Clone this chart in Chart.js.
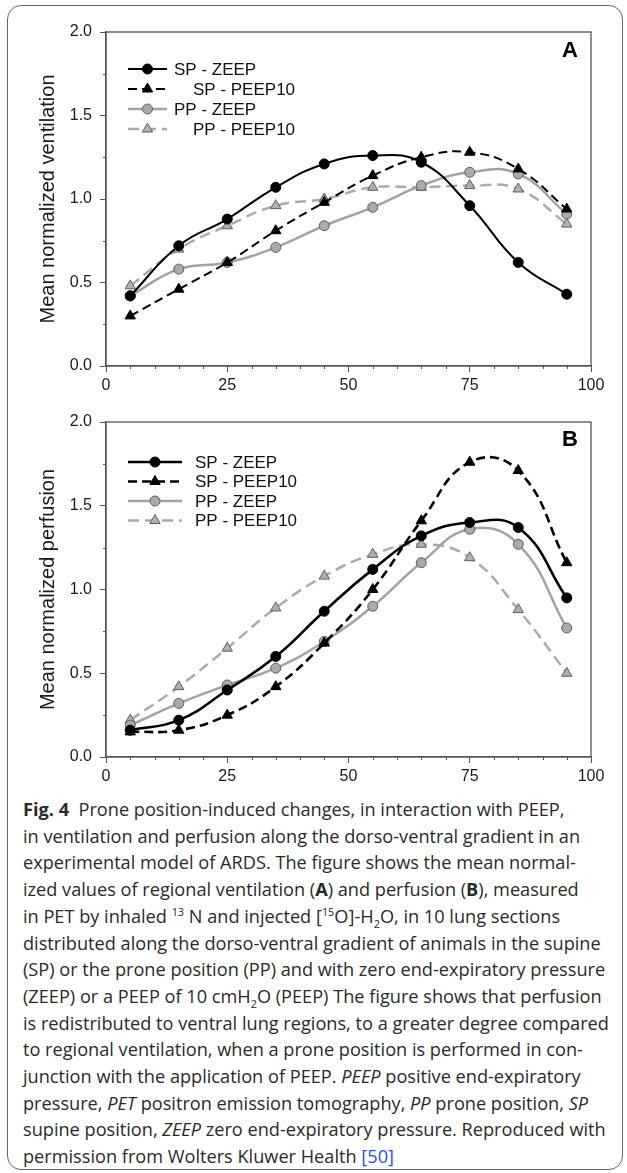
<!DOCTYPE html>
<html lang="en">
<head>
    <meta charset="UTF-8">
    <title>Fig. 4 - Ventilation and perfusion</title>
    <script src="https://cdn.jsdelivr.net/npm/chart.js"></script>
    <style>
        body {
            margin: 0;
            background: #fff;
            width: 627px;
            height: 1173px;
            position: relative;
            overflow: hidden;
            font-family: Arial, "Liberation Sans", sans-serif;
        }
        .frame {
            position: absolute;
            left: 7px;
            top: 5px;
            width: 616px;
            height: 1165px;
            border: 1px solid #666;
            border-radius: 14px;
            box-sizing: border-box;
        }
        canvas { position: absolute; left: 0; }
        #ventChart { top: 0; }
        #perfChart { top: 400px; }
        .cap {
            position: absolute;
            left: 23px;
            top: 796px;
            font-family: "Open Sans", "Noto Sans", sans-serif;
            font-size: 18px;
            line-height: 26.7px;
            color: #2a2a2a;
            transform-origin: left top;
        }
        .cap div { white-space: nowrap; width: max-content; }
        .cap sup, .cap sub { font-size: 0.6em; line-height: 0; }
        .cap .ref { color: #2d4fd0; }
    </style>
</head>
<body>
    <div class="frame"></div>
    <canvas id="ventChart" width="627" height="400"></canvas>
    <canvas id="perfChart" width="627" height="390"></canvas>

    <div class="cap" id="caption">
        <div><b>Fig. 4</b>&nbsp; Prone position-induced changes, in interaction with PEEP,</div>
        <div>in ventilation and perfusion along the dorso-ventral gradient in an</div>
        <div>experimental model of ARDS. The figure shows the mean normal-</div>
        <div>ized values of regional ventilation (<b>A</b>) and perfusion (<b>B</b>), measured</div>
        <div>in PET by inhaled <sup>13</sup> N and injected [<sup>15</sup>O]-H<sub>2</sub>O, in 10 lung sections</div>
        <div>distributed along the dorso-ventral gradient of animals in the supine</div>
        <div id="fitLine">(SP) or the prone position (PP) and with zero end-expiratory pressure</div>
        <div>(ZEEP) or a PEEP of 10 cmH<sub>2</sub>O (PEEP) The figure shows that perfusion</div>
        <div>is redistributed to ventral lung regions, to a greater degree compared</div>
        <div>to regional ventilation, when a prone position is performed in con-</div>
        <div>junction with the application of PEEP. <i>PEEP</i> positive end-expiratory</div>
        <div>pressure, <i>PET</i> positron emission tomography, <i>PP</i> prone position, <i>SP</i></div>
        <div>supine position, <i>ZEEP</i> zero end-expiratory pressure. Reproduced with</div>
        <div>permission from Wolters Kluwer Health <span class="ref">[50]</span></div>
    </div>

    <script>
        // lung section positions (% of dorso-ventral gradient)
        const sections = [5, 15, 25, 35, 45, 55, 65, 75, 85, 95];
        const seriesNames = ['SP - ZEEP', 'SP - PEEP10', 'PP - ZEEP', 'PP - PEEP10'];

        // panel A - mean normalized ventilation
        const ventSpZeep   = [0.42, 0.72, 0.88, 1.07, 1.21, 1.26, 1.22, 0.96, 0.62, 0.43];
        const ventSpPeep10 = [0.30, 0.46, 0.62, 0.81, 0.98, 1.14, 1.25, 1.28, 1.18, 0.94];
        const ventPpZeep   = [0.42, 0.58, 0.62, 0.71, 0.84, 0.95, 1.08, 1.16, 1.15, 0.91];
        const ventPpPeep10 = [0.48, 0.70, 0.84, 0.96, 1.00, 1.07, 1.07, 1.08, 1.06, 0.85];

        // panel B - mean normalized perfusion
        const perfSpZeep   = [0.16, 0.22, 0.40, 0.60, 0.87, 1.12, 1.32, 1.40, 1.37, 0.95];
        const perfSpPeep10 = [0.15, 0.16, 0.25, 0.42, 0.68, 1.00, 1.41, 1.76, 1.71, 1.16];
        const perfPpZeep   = [0.19, 0.32, 0.43, 0.53, 0.69, 0.90, 1.16, 1.36, 1.27, 0.77];
        const perfPpPeep10 = [0.22, 0.42, 0.65, 0.89, 1.08, 1.21, 1.27, 1.19, 0.88, 0.50];

        const xTicks = [0, 25, 50, 75, 100];
        const yTicks = [0, 0.5, 1.0, 1.5, 2.0];

        function toPoints(values) {
            return values.map((v, i) => ({ x: sections[i], y: v }));
        }

        function buildDatasets(lists, blackWidth) {
            return [
                { label: seriesNames[0], data: toPoints(lists[0]), borderColor: '#000', borderWidth: blackWidth,
                  pointStyle: 'circle', pointRadius: 5, pointBackgroundColor: '#000', pointBorderColor: '#000', pointBorderWidth: 1 },
                { label: seriesNames[1], data: toPoints(lists[1]), borderColor: '#000', borderWidth: blackWidth, borderDash: [9, 5],
                  pointStyle: 'triangle', pointRadius: 6, pointBackgroundColor: '#000', pointBorderColor: '#000', pointBorderWidth: 1 },
                { label: seriesNames[2], data: toPoints(lists[2]), borderColor: '#a3a3a3', borderWidth: 2.5,
                  pointStyle: 'circle', pointRadius: 5, pointBackgroundColor: '#aaa', pointBorderColor: '#5e5e5e', pointBorderWidth: 1 },
                { label: seriesNames[3], data: toPoints(lists[3]), borderColor: '#ababab', borderWidth: 2.5, borderDash: [11, 6],
                  pointStyle: 'triangle', pointRadius: 6, pointBackgroundColor: '#b0b0b0', pointBorderColor: '#5e5e5e', pointBorderWidth: 1 }
            ];
        }

        // frame, minor ticks, panel letter and the custom legend
        const figDecor = {
            id: 'figDecor',
            beforeDatasetsDraw(chart, args, opts) {
                const ctx = chart.ctx;
                const area = chart.chartArea;
                const xs = chart.scales.x, ys = chart.scales.y;
                ctx.save();
                ctx.strokeStyle = '#555';
                ctx.lineWidth = 1.3;
                ctx.strokeRect(area.left, area.top, area.right - area.left, area.bottom - area.top);
                ctx.lineWidth = 1;
                ctx.beginPath();
                for (let v = 5; v < 100; v += 5) {
                    if (v % 25 === 0) continue;
                    const px = Math.round(xs.getPixelForValue(v)) + 0.5;
                    ctx.moveTo(px, area.bottom);
                    ctx.lineTo(px, area.bottom + 3);
                }
                for (let v = 0.25; v < 2; v += 0.5) {
                    const py = Math.round(ys.getPixelForValue(v)) + 0.5;
                    ctx.moveTo(area.left, py);
                    ctx.lineTo(area.left - 3, py);
                }
                ctx.stroke();

                ctx.fillStyle = '#000';
                ctx.font = 'bold 22px Arial';
                ctx.textAlign = 'center';
                ctx.textBaseline = 'middle';
                ctx.fillText(opts.letter, area.right - 21, area.top + opts.letterDy);
                ctx.restore();
            },
            afterDraw(chart, args, opts) {
                const ctx = chart.ctx;
                const lg = opts.legend;
                ctx.save();
                chart.data.datasets.forEach((ds, i) => {
                    const y = lg.y0 + i * lg.dy;
                    ctx.strokeStyle = ds.borderColor;
                    ctx.lineWidth = ds.borderWidth;
                    ctx.setLineDash(ds.borderDash || []);
                    ctx.beginPath();
                    ctx.moveTo(lg.x0, y);
                    ctx.lineTo(lg.x1, y);
                    ctx.stroke();
                    ctx.setLineDash([]);
                    ctx.fillStyle = ds.pointBackgroundColor;
                    ctx.strokeStyle = ds.pointBorderColor;
                    ctx.lineWidth = ds.pointBorderWidth;
                    Chart.helpers.drawPoint(ctx, { pointStyle: ds.pointStyle, radius: ds.pointRadius, rotation: 0, borderWidth: ds.pointBorderWidth }, (lg.x0 + lg.x1) / 2, y);
                    ctx.fillStyle = '#111';
                    ctx.font = '17px Arial';
                    ctx.textAlign = 'left';
                    ctx.textBaseline = 'middle';
                    ctx.fillText(ds.label, lg.tx[i], y + 1);
                });
                ctx.restore();
            }
        };

        function createChart(canvasId, lists, yTitle, letter, padTop, xHeight, blackWidth, legend, letterDy) {
            const ctx = document.getElementById(canvasId).getContext('2d');
            return new Chart(ctx, {
                type: 'line',
                data: { datasets: buildDatasets(lists, blackWidth) },
                plugins: [figDecor],
                options: {
                    responsive: false,
                    animation: false,
                    layout: { padding: { top: padTop, right: 36, left: 0, bottom: 0 } },
                    elements: { line: { tension: 0.45, fill: false } },
                    plugins: {
                        legend: { display: false },
                        tooltip: { enabled: false },
                        figDecor: { letter: letter, letterDy: letterDy, legend: legend }
                    },
                    scales: {
                        x: {
                            type: 'linear',
                            min: 0,
                            max: 100,
                            afterBuildTicks: s => { s.ticks = xTicks.map(v => ({ value: v })); },
                            afterFit: s => { s.height = xHeight; },
                            ticks: { font: { family: 'Arial', size: 16 }, color: '#1a1a1a', padding: 4, maxRotation: 0 },
                            grid: { drawOnChartArea: false, drawTicks: true, tickLength: 6, color: '#555' },
                            border: { color: '#555', width: 1.3 }
                        },
                        y: {
                            min: 0,
                            max: 2,
                            afterBuildTicks: s => { s.ticks = yTicks.map(v => ({ value: v })); },
                            afterFit: s => { s.width = 106; },
                            ticks: { font: { family: 'Arial', size: 16 }, color: '#1a1a1a', padding: 8,
                                     callback: v => Number(v).toFixed(1) },
                            grid: { drawOnChartArea: false, drawTicks: true, tickLength: 6, color: '#555' },
                            border: { color: '#555', width: 1.3 },
                            title: { display: true, text: yTitle, color: '#1a1a1a',
                                     font: { family: 'Arial', size: 20 }, padding: { top: 36, bottom: 0 } }
                        }
                    }
                }
            });
        }

        createChart('ventChart', [ventSpZeep, ventSpPeep10, ventPpZeep, ventPpPeep10],
            'Mean normalized ventilation', 'A', 32, 34, 2,
            { x0: 128, x1: 167, y0: 69, dy: 20, tx: [174, 193, 174, 193] }, 19);

        createChart('perfChart', [perfSpZeep, perfSpPeep10, perfPpZeep, perfPpPeep10],
            'Mean normalized perfusion', 'B', 22, 33, 2.6,
            { x0: 128, x1: 182, y0: 62, dy: 19.5, tx: [195, 195, 195, 195] }, 18);

        // squeeze the caption to the width of the original column
        const cap = document.getElementById('caption');
        const fit = document.getElementById('fitLine');
        const s = 582 / fit.offsetWidth;
        cap.style.transform = 'scaleX(' + s.toFixed(4) + ')';
    </script>
</body>
</html>
